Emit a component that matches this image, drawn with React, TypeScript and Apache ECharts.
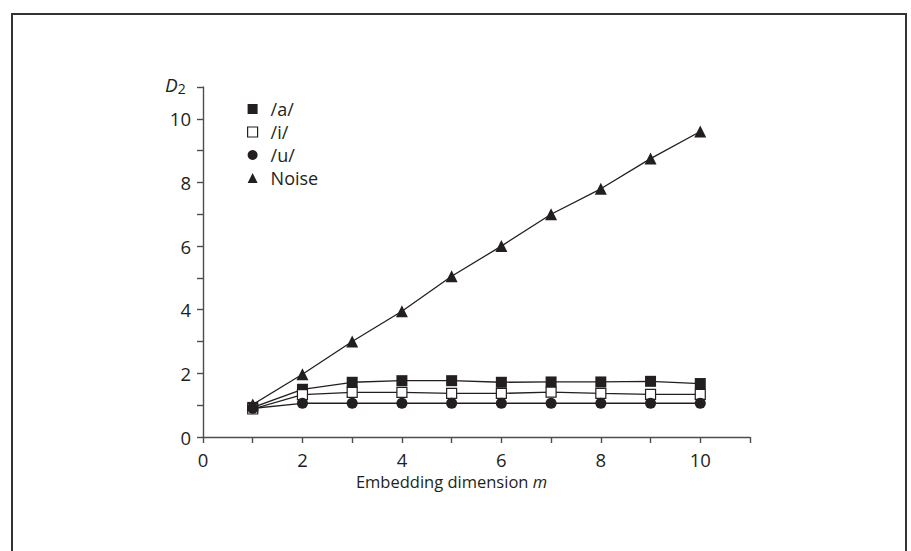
import React, { useEffect, useRef } from "react";
import * as echarts from "echarts";

const dims = [1, 2, 3, 4, 5, 6, 7, 8, 9, 10];
const seriesA = [0.93, 1.5, 1.72, 1.77, 1.77, 1.72, 1.73, 1.73, 1.75, 1.68];
const seriesI = [0.88, 1.33, 1.4, 1.4, 1.37, 1.37, 1.41, 1.37, 1.34, 1.34];
const seriesU = [0.9, 1.06, 1.06, 1.06, 1.06, 1.06, 1.06, 1.06, 1.06, 1.06];
const seriesNoise = [1.02, 1.97, 3.0, 3.95, 5.05, 6.0, 7.0, 7.8, 8.75, 9.6];
const names = ["/a/", "/i/", "/u/", "Noise"];

const INK = "#231f20";
const AXIS = "#4d4d4d";
const FONT = "'Open Sans', 'Noto Sans', sans-serif";

export default function App() {
  const ref = useRef<HTMLDivElement>(null);
  useEffect(() => {
    if (!ref.current) return;
    const chart = echarts.init(ref.current, null, { renderer: "svg" });
    const pts = (arr: number[]) => dims.map((d, i) => [d, arr[i]]);
    const lineStyle = { color: INK, width: 1.3 };
    chart.setOption({
      animation: false,
      backgroundColor: "#fff",
      textStyle: { fontFamily: FONT, color: INK },
      grid: { left: 203, right: 161, top: 87, bottom: 114 },
      xAxis: {
        type: "value",
        min: 0,
        max: 11,
        interval: 1,
        name: "Embedding dimension {i|m}",
        nameLocation: "middle",
        nameGap: 36,
        nameMoveOverlap: false,
        nameTextStyle: {
          fontSize: 16.5,
          color: INK,
          fontFamily: FONT,
          padding: [0, 0, 0, -50],
          rich: { i: { fontStyle: "italic", fontSize: 16.5, color: INK, fontFamily: FONT } },
        },
        splitLine: { show: false },
        axisLine: { show: true, lineStyle: { color: AXIS, width: 1.4 } },
        axisTick: { show: true, length: 6, lineStyle: { color: AXIS, width: 1.4 } },
        axisLabel: {
          fontSize: 18.5,
          color: INK,
          margin: 13,
          formatter: (v: number) => (v % 2 === 0 && v <= 10 ? String(v) : ""),
        },
      },
      yAxis: {
        type: "value",
        min: 0,
        max: 11,
        interval: 1,
        splitLine: { show: false },
        axisLine: { show: true, lineStyle: { color: AXIS, width: 1.4 } },
        axisTick: { show: true, length: 6, lineStyle: { color: AXIS, width: 1.4 } },
        axisLabel: {
          fontSize: 18.5,
          color: INK,
          margin: 12,
          formatter: (v: number) => (v % 2 === 0 && v <= 10 ? String(v) : ""),
        },
      },
      legend: {
        orient: "vertical",
        left: 242,
        top: 95,
        itemGap: 5,
        itemWidth: 10,
        itemHeight: 10,
        textStyle: {
          fontSize: 18,
          color: INK,
          fontFamily: FONT,
          padding: [0, 0, 0, 8],
        },
        data: [
          { name: names[0], icon: "rect", itemStyle: { color: INK, borderWidth: 0 } },
          { name: names[1], icon: "rect", itemStyle: { color: "#fff", borderColor: INK, borderWidth: 1.2 } },
          { name: names[2], icon: "circle", itemStyle: { color: INK, borderWidth: 0 } },
          { name: names[3], icon: "triangle", itemStyle: { color: INK, borderWidth: 0 } },
        ],
      },
      graphic: [
        {
          type: "rect",
          shape: { x: 12, y: 14, width: 894, height: 560 },
          style: { fill: "none", stroke: "#333", lineWidth: 2 },
          silent: true,
        },
        {
          type: "text",
          left: 165,
          top: 75,
          style: {
            text: "{d|D}{s|2}",
            rich: {
              d: { fontStyle: "italic", fontSize: 19, fill: INK, fontFamily: FONT },
              s: { fontSize: 14, fill: INK, fontFamily: FONT, padding: [8, 0, 0, 0] },
            },
          },
        },
      ],
      series: [
        {
          name: names[3],
          type: "line",
          data: pts(seriesNoise),
          symbol: "triangle",
          symbolSize: 12,
          itemStyle: { color: INK },
          lineStyle,
          z: 1,
        },
        {
          name: names[0],
          type: "line",
          data: pts(seriesA),
          symbol: "rect",
          symbolSize: 11,
          itemStyle: { color: INK },
          lineStyle,
          z: 2,
        },
        {
          name: names[1],
          type: "line",
          data: pts(seriesI),
          symbol: "rect",
          symbolSize: 10,
          itemStyle: { color: "#fff", borderColor: INK, borderWidth: 1.2 },
          lineStyle,
          z: 3,
        },
        {
          name: names[2],
          type: "line",
          data: pts(seriesU),
          symbol: "circle",
          symbolSize: 11,
          itemStyle: { color: INK },
          lineStyle,
          z: 4,
        },
      ],
    });
    return () => chart.dispose();
  }, []);
  return (
    <div
      ref={ref}
      style={{ position: "absolute", left: 0, top: 0, width: 911, height: 551 }}
    />
  );
}
